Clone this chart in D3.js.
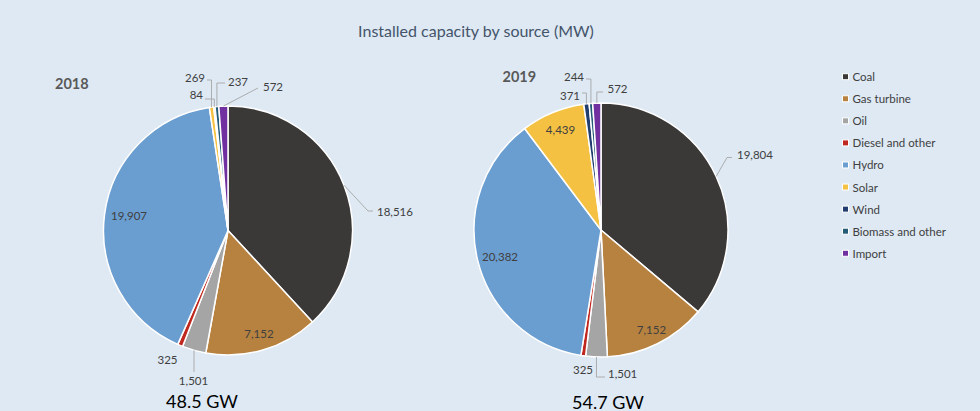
<!DOCTYPE html>
<html><head><meta charset="utf-8">
<script src="https://cdn.jsdelivr.net/npm/d3@7"></script>
<style>
html,body{margin:0;padding:0;background:#dee9f4;}
svg{display:block;font-family:Lato,"Open Sans",sans-serif;}
</style></head>
<body><svg id="c" width="980" height="411"></svg>
<script>
const title = "Installed capacity by source (MW)";
const categories = ["Coal","Gas turbine","Oil","Diesel and other","Hydro","Solar","Wind","Biomass and other","Import"];
const values2018 = [18516,7152,1501,325,19907,269,84,237,572];
const values2019 = [19804,7152,1501,325,20382,4439,371,244,572];
const years = ["2018","2019"];
const totals = ["48.5 GW","54.7 GW"];
const colors = ["#3b3838","#b7823f","#a5a5a5","#c0281f","#6a9dd0","#f5c142","#213c6e","#245c77","#7030a0"];

// layout (positions relative to pie centres)
const pies = [
  {values: values2018, cx:228, cy:230.5, r:124.5, year:[55,83], total:[202,400.5],
   labels:[
    {pts:[[140,-19.5],[145,-19.5]], t:[149,-19.5], a:"start"},
    {t:[31,103], a:"middle"},
    {pts:[[null,141.5]], t:[-34.5,150], a:"middle"},
    {t:[-60.5,128.5], a:"middle"},
    {t:[-99,-15], a:"middle"},
    {pts:[[null,-150.5],[-21,-150.5]], t:[-23,-153.5], a:"end"},
    {pts:[[null,-131.5],[-23,-131.5]], t:[-25,-136], a:"end"},
    {pts:[[null,-147.5],[-3,-147.5]], t:[0,-149], a:"start"},
    {pts:[[30,-142.5]], t:[35,-144.5], a:"start"}
   ]},
  {values: values2019, cx:601, cy:230, r:127, year:[502.5,76], total:[608,401.5],
   labels:[
    {pts:[[126,-72.5],[131,-72.5]], t:[136,-75.5], a:"start"},
    {t:[50.5,99], a:"middle"},
    {pts:[[null,147],[4,147]], t:[7,143], a:"start"},
    {t:[-18,139], a:"middle"},
    {t:[-101,26], a:"middle"},
    {t:[-40.5,-101], a:"middle"},
    {pts:[[null,-137],[-19,-137]], t:[-21,-134.5], a:"end"},
    {pts:[[null,-151],[-15,-151]], t:[-17,-153.5], a:"end"},
    {pts:[[null,-138],[2,-138]], t:[6.5,-142], a:"start"}
   ]}
];

const svg = d3.select("#c");
const fmt = d3.format(",");
const color = d3.scaleOrdinal().domain(categories).range(colors);

svg.append("text").attr("x",476).attr("y",30).attr("text-anchor","middle")
  .attr("dominant-baseline","central").attr("font-size",16).attr("fill","#44546a").text(title);

const pie = d3.pie().sort(null).value(d=>d);

pies.forEach((p,pi)=>{
  const g = svg.append("g").attr("transform",`translate(${p.cx},${p.cy})`);
  const arc = d3.arc().innerRadius(0).outerRadius(p.r);
  const arcs = pie(p.values);
  g.selectAll("path.s").data(arcs).join("path").attr("class","s")
    .attr("d",arc).attr("fill",(d,i)=>color(categories[i]))
    .attr("stroke","#fff").attr("stroke-width",1.5).attr("stroke-linejoin","round");

  arcs.forEach((d,i)=>{
    const L = p.labels[i];
    const mid = (d.startAngle+d.endAngle)/2;
    const ex = p.r*Math.sin(mid), ey = -p.r*Math.cos(mid);
    if (L.pts){
      const pts = [[ex,ey]].concat(L.pts.map(q=>[q[0]===null?ex:q[0], q[1]]));
      g.append("path").attr("d",d3.line()(pts)).attr("fill","none")
        .attr("stroke","#a6a6a6").attr("stroke-width",0.9);
    }
    g.append("text").attr("x",L.t[0]).attr("y",L.t[1]).attr("text-anchor",L.a)
      .attr("dominant-baseline","central").attr("font-size",11.5).attr("fill","#404040")
      .text(fmt(p.values[i]));
  });

  svg.append("text").attr("x",p.year[0]).attr("y",p.year[1]).attr("dominant-baseline","central")
    .attr("font-size",14.5).attr("font-weight","bold").attr("fill","#595959").text(years[pi]);
  svg.append("text").attr("x",p.total[0]).attr("y",p.total[1]).attr("text-anchor","middle")
    .attr("dominant-baseline","central").attr("font-size",18).attr("fill","#000").text(totals[pi]);
});

const leg = svg.append("g").selectAll("g").data(categories).join("g")
  .attr("transform",(d,i)=>`translate(842.5,${76.7+i*22.07})`);
leg.append("rect").attr("x",0).attr("y",-3).attr("width",6).attr("height",6)
  .attr("fill",d=>color(d)).attr("stroke","#fff").attr("stroke-width",1);
leg.append("text").attr("x",10).attr("y",0).attr("dominant-baseline","central")
  .attr("font-size",11.5).attr("fill","#404040").text(d=>d);
</script></body></html>
